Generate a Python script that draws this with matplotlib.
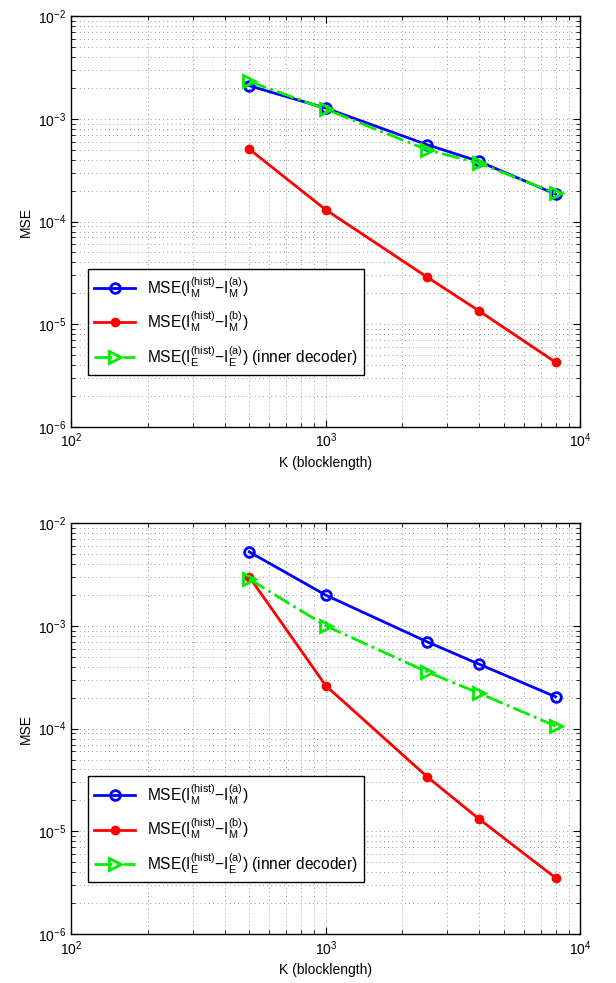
import numpy as np
import matplotlib
matplotlib.use('Agg')
import matplotlib.pyplot as plt

plt.rcParams['font.family'] = ['Liberation Sans', 'DejaVu Sans']
plt.rcParams['mathtext.fontset'] = 'custom'
plt.rcParams['mathtext.rm'] = 'Liberation Sans'
plt.rcParams['mathtext.it'] = 'Liberation Sans:italic'
plt.rcParams['mathtext.default'] = 'regular'

K = [500, 1000, 2500, 4000, 8000]

# top panel
top_a = [2.1e-3, 1.27e-3, 5.6e-4, 3.85e-4, 1.85e-4]
top_b = [5.07e-4, 1.30e-4, 2.88e-5, 1.35e-5, 4.27e-6]
top_e = [2.31e-3, 1.24e-3, 5.0e-4, 3.7e-4, 1.89e-4]

# bottom panel
bot_a = [5.25e-3, 1.99e-3, 7.0e-4, 4.24e-4, 2.04e-4]
bot_b = [3.0e-3, 2.61e-4, 3.40e-5, 1.32e-5, 3.52e-6]
bot_e = [2.85e-3, 1.0e-3, 3.57e-4, 2.21e-4, 1.06e-4]

lab_a = r'MSE($I_M^{(hist)}$$-$$I_M^{(a)}$)'
lab_b = r'MSE($I_M^{(hist)}$$-$$I_M^{(b)}$)'
lab_e = r'MSE($I_E^{(hist)}$$-$$I_E^{(a)}$) (inner decoder)'

fig = plt.figure(figsize=(6.16, 9.83), dpi=100)
ax1 = fig.add_axes([0.116, 0.5656, 0.826, 0.418])
ax2 = fig.add_axes([0.116, 0.0498, 0.826, 0.418])

for ax, a, b, e in [(ax1, top_a, top_b, top_e), (ax2, bot_a, bot_b, bot_e)]:
    ax.loglog(K, a, '-o', color='blue', lw=2, ms=7, mfc='none', mew=2, label=lab_a)
    ax.loglog(K, b, '-o', color='red', lw=2, ms=6, mfc='red', mew=1, label=lab_b)
    ax.loglog(K, e, '-.>', color='#00ee00', lw=2, ms=8, mfc='none', mew=2, label=lab_e)
    ax.set_xlim(1e2, 1e4)
    ax.set_ylim(1e-6, 1e-2)
    ax.grid(True, which='both', ls=(0, (1, 4)), color='black', lw=0.6, alpha=0.55)
    ax.tick_params(which='both', direction='in', top=True, right=True, labelsize=10)
    ax.tick_params(which='major', length=5)
    ax.tick_params(which='minor', length=3)
    for s in ax.spines.values():
        s.set_linewidth(1.0)
    ax.set_xlabel('K (blocklength)', fontsize=10)
    ax.set_ylabel('MSE', fontsize=10)
    leg = ax.legend(loc='lower left', bbox_to_anchor=(0.033, 0.127), borderaxespad=0,
                    fontsize=11.2, fancybox=False, framealpha=1, edgecolor='black',
                    handlelength=2.6, labelspacing=0.6)
    leg.get_frame().set_linewidth(1.0)

plt.savefig('out.png', dpi=100)
